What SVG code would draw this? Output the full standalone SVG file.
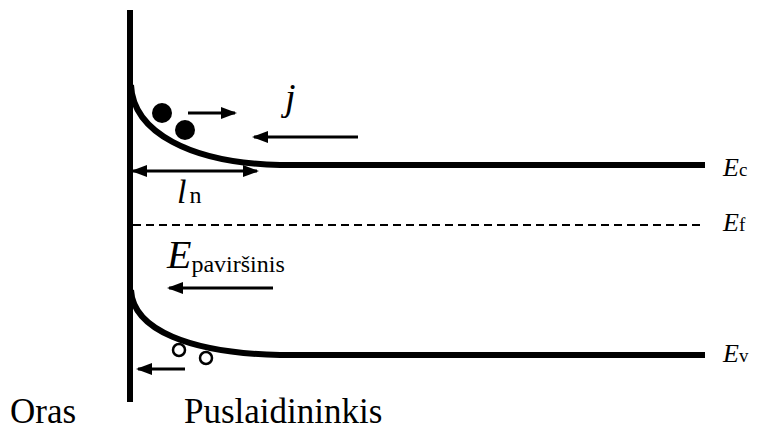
<svg xmlns="http://www.w3.org/2000/svg" width="757" height="434" viewBox="0 0 757 434">
<style>
.band{fill:none;stroke:#000;stroke-width:6}
.arr{fill:none;stroke:#000;stroke-width:3}
.i{font-style:italic}
</style>
<defs>
<marker id="ah" viewBox="0 0 16 12" refX="14" refY="6" markerWidth="16" markerHeight="12" markerUnits="userSpaceOnUse" orient="auto-start-reverse">
<path d="M0,0 L16,6 L0,12 Z" fill="#000"/>
</marker>
</defs>
<rect width="757" height="434" fill="#fff"/>
<g id="wall"><line x1="130" y1="10" x2="130" y2="402" stroke="#000" stroke-width="6"/></g>
<g id="Ec-band"><path class="band" d="M131,85 C133,132 190,163 280,165 L705,165"/></g>
<g id="Ev-band"><path class="band" d="M131,290 C133,330 190,353 280,355 L705,355"/></g>
<g id="Ef-line"><line x1="133" y1="225" x2="705" y2="225" stroke="#000" stroke-width="2" stroke-dasharray="8,5"/></g>
<g id="electrons"><circle cx="162" cy="113" r="10"/><circle cx="185" cy="130" r="10"/></g>
<g id="holes" fill="#fff" stroke="#000" stroke-width="2.5"><circle cx="179" cy="350" r="6"/><circle cx="206" cy="358" r="6"/></g>
<g id="connectors">
<line class="arr" x1="188" y1="113" x2="235" y2="113" marker-end="url(#ah)"/>
<line class="arr" x1="358" y1="137" x2="254" y2="137" marker-end="url(#ah)"/>
<line class="arr" x1="133" y1="171" x2="257" y2="171" marker-start="url(#ah)" marker-end="url(#ah)"/>
<line class="arr" x1="273" y1="288" x2="169" y2="288" marker-end="url(#ah)"/>
<line class="arr" x1="185" y1="369" x2="138" y2="369" marker-end="url(#ah)"/>
</g>
<g id="labels" font-family="Liberation Serif, DejaVu Serif, serif" fill="#000">
<text class="i" x="285" y="110" font-size="38">j</text>
<text x="177" y="203" font-size="34"><tspan class="i">l</tspan><tspan font-size="24" dx="3">n</tspan></text>
<text x="167" y="268" font-size="40"><tspan class="i">E</tspan><tspan font-size="24" dy="4">paviršinis</tspan></text>
<text x="723" y="176" font-size="26"><tspan class="i">E</tspan><tspan font-size="19">c</tspan></text>
<text x="723" y="231" font-size="26"><tspan class="i">E</tspan><tspan font-size="19">f</tspan></text>
<text x="723" y="362" font-size="26"><tspan class="i">E</tspan><tspan font-size="19">v</tspan></text>
<text x="10" y="423" font-size="35">Oras</text>
<text x="184" y="423" font-size="35">Puslaidininkis</text>
</g>
</svg>
